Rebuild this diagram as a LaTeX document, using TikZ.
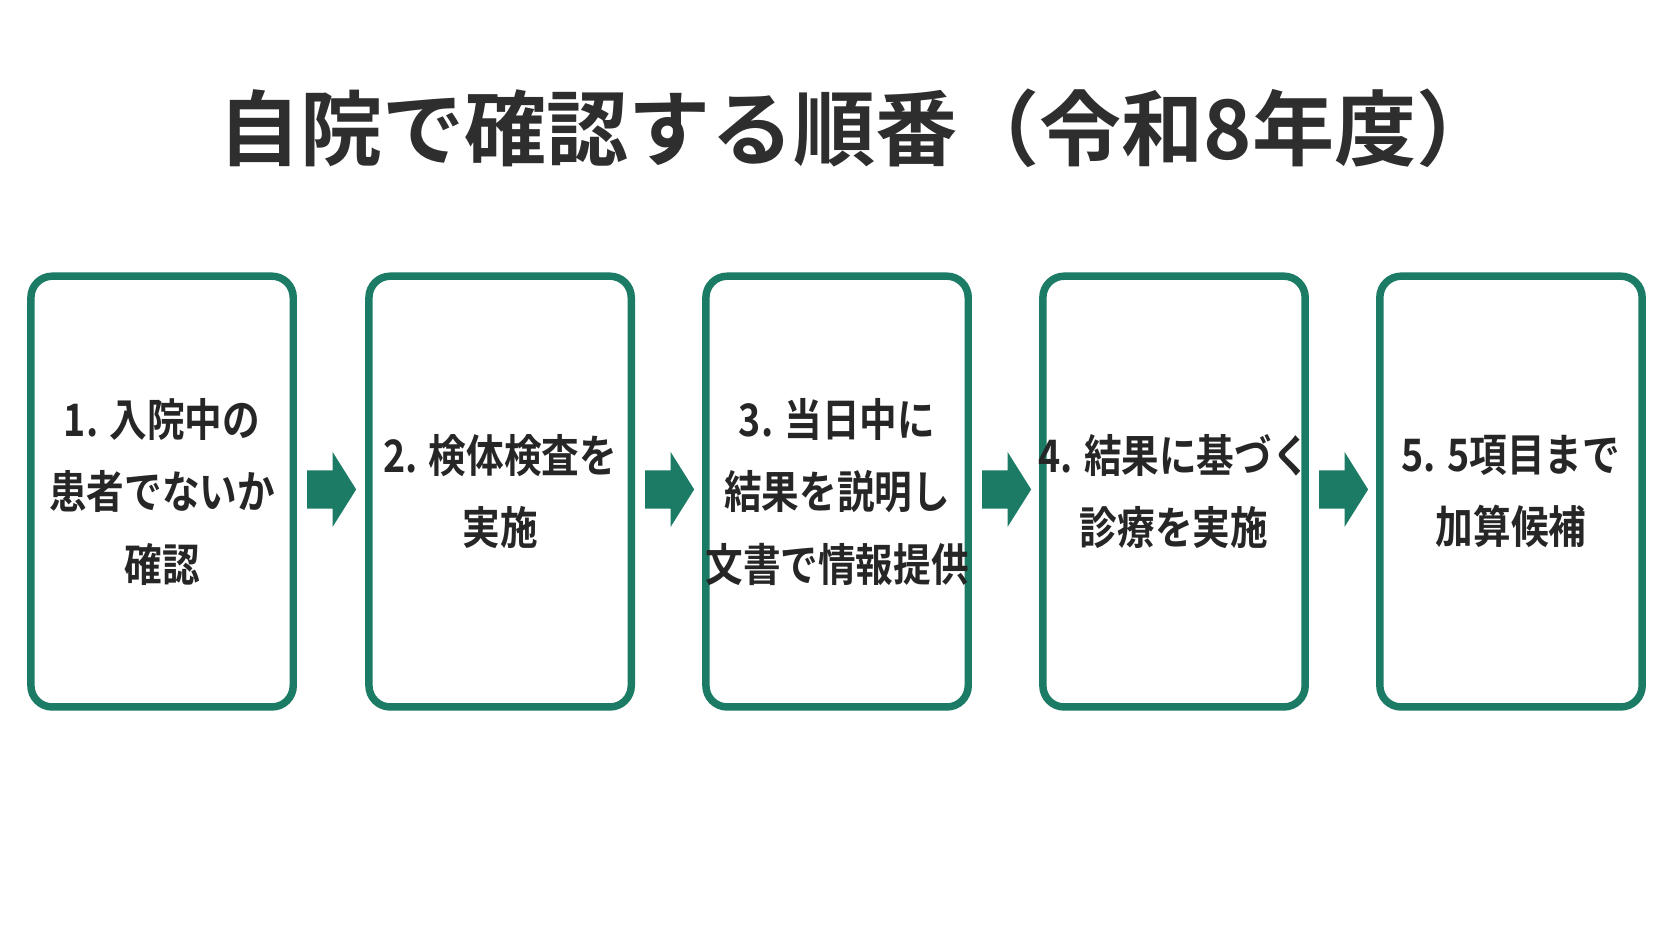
\documentclass[tikz,border=0pt]{standalone}
\usepackage{fontspec}
\usepackage{graphicx}
\newfontfamily\jp{Noto Sans CJK JP}[BoldFont={* Bold}]
\newcommand{\sqz}[1]{\scalebox{0.84}[1]{#1}}
\definecolor{teal1}{HTML}{1B7B65}
\begin{document}
\begin{tikzpicture}[x=0.5pt,y=-0.5pt,
  box/.style={draw=teal1,line width=3.5pt,rounded corners=10pt,minimum width=123pt,minimum height=202pt},
  lbl/.style={font=\jp\bfseries\fontsize{21}{34}\selectfont,align=center,text=black!85},
  arr/.style={fill=teal1}]
\useasboundingbox (0,0) rectangle (1568,882);
\fill[white] (0,0) rectangle (1568,882);
\node[font=\jp\bfseries\fontsize{38.5}{40}\selectfont,text=black!82] (title) at (805,120) {自院で確認する順番（令和8年度）};
\foreach \i/\x/\t in {1/152/{\sqz{1. 入院中の}\\\sqz{患者でないか}\\\sqz{確認}},2/469/{\sqz{2. 検体検査を}\\\sqz{実施}},3/785/{\sqz{3. 当日中に}\\\sqz{結果を説明し}\\\sqz{文書で情報提供}},4/1101/{\sqz{4. 結果に基づく}\\\sqz{診療を実施}},5/1417/{\sqz{5. 5項目まで}\\\sqz{加算候補}}}{
  \node[box] (b\i) at (\x,461) {};
  \node[lbl] (t\i) at (\x,461) {\t};
}
\foreach \i/\x in {1/288,2/605,3/921,4/1237}{
  \fill[arr] (\x,441) -- (\x+24,441) -- (\x+24,424) -- (\x+46,459) -- (\x+24,494) -- (\x+24,477) -- (\x,477) -- cycle;
}
\end{tikzpicture}
\end{document}
